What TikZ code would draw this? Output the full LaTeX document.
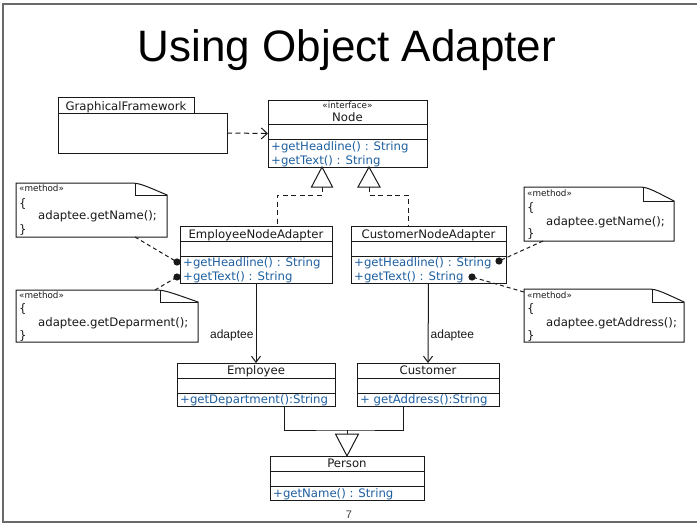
\documentclass[tikz,border=0pt]{standalone}
\usepackage{fontspec}
\setmainfont{Liberation Sans}
\newfontfamily\umlfont{DejaVu Sans}
\usetikzlibrary{arrows.meta,fit}
\definecolor{opblue}{RGB}{30,95,160}
\definecolor{framegray}{RGB}{105,105,105}
\definecolor{ink}{RGB}{25,25,25}

\tikzset{
  classline/.style={line width=1pt, draw=ink},
  classframe/.style={classline, rectangle, inner sep=0pt, outer sep=0pt},
  nametext/.style={font=\umlfont\fontsize{11.7}{13}\selectfont, text=ink, inner sep=0pt, anchor=base},
  stereo/.style={font=\umlfont\fontsize{8.8}{10}\selectfont, text=ink, inner sep=0pt},
  optext/.style={font=\umlfont\fontsize{11.7}{13}\selectfont, text=opblue, inner sep=0pt, anchor=base west},
  codetext/.style={font=\umlfont\fontsize{11.7}{13}\selectfont, text=ink, inner sep=0pt, anchor=base west},
  dependency/.style={line width=1pt, draw=ink, dash pattern=on 5pt off 3.5pt,
    -{Straight Barb[length=6pt,width=11pt,line width=1pt]}},
  realize/.style={line width=1pt, draw=ink, dash pattern=on 5pt off 3.5pt},
  assoc/.style={line width=1pt, draw=ink, -{Straight Barb[length=6pt,width=9pt,line width=1pt]}},
  generalize/.style={line width=1pt, draw=ink},
  hollowtri/.style={line width=1pt, draw=ink, fill=white},
  anchorline/.style={line width=1pt, draw=ink, dash pattern=on 4pt off 3pt},
  anchordot/.style={fill=ink},
  edgelabel/.style={font=\fontsize{12}{14}\selectfont, text=ink, inner sep=2pt},
}

% three-compartment class box: name, left, top, right, bottom, first divider, second divider
\newcommand{\classbox}[7]{%
  \coordinate (#1-nw) at (#2,#3);
  \coordinate (#1-se) at (#4,#5);
  \node[classframe, fit=(#1-nw)(#1-se)] (#1) {};
  \draw[classline] (#2,#6) -- (#4,#6) (#2,#7) -- (#4,#7);
}

% note with folded corner: name, left, top, right, bottom, fold x, fold depth
\newcommand{\notebox}[7]{%
  \coordinate (#1-nw) at (#2,#3);
  \coordinate (#1-se) at (#4,#5);
  \node[inner sep=0pt, outer sep=0pt, fit=(#1-nw)(#1-se)] (#1) {};
  \draw[classline, fill=white] (#2,#3) -- (#6-8,#3) .. controls (#6+4,#3) .. (#4,#3+#7)
    -- (#4,#5) -- (#2,#5) -- cycle;
  \draw[line width=0.7pt, draw=ink] (#6,#3+1) -- (#6,#3+#7) -- (#4,#3+#7);
}

\begin{document}
\begin{tikzpicture}[x=1pt, y=-1pt]
\useasboundingbox (0,0) rectangle (697,525);

% slide frame
\draw[framegray, line width=1.4pt] (697,4) -- (3,4) -- (3,522) -- (697,522);

% title and page number
\node[anchor=base, font=\fontsize{44}{50}\selectfont, text=black] (title) at (347,61) {Using Object Adapter};
\node[font=\fontsize{11}{13}\selectfont, text=black!75] (pageno) at (349,515) {7};

% GraphicalFramework (package-like tab)
\node[classframe, minimum width=136pt, minimum height=16pt, anchor=north west] (gf-tab) at (58,97) {};
\node[nametext] (gf-name) at (126,110) {GraphicalFramework};
\coordinate (gf-nw) at (58,113);
\coordinate (gf-se) at (227,153);
\node[classframe, fit=(gf-nw)(gf-se)] (gf) {};

% interface Node
\classbox{nodeif}{268}{100}{427}{167}{124}{139}
\node[stereo, anchor=base] (nodeif-st) at (347.5,108) {«interface»};
\node[nametext] (nodeif-name) at (347.5,121.5) {Node};
\node[optext] (nodeif-op1) at (271,150.5) {+getHeadline() : String};
\node[optext] (nodeif-op2) at (271,164.5) {+getText() : String};

% adapters
\classbox{ena}{180}{226}{332}{283}{241}{256}
\node[nametext] (ena-name) at (256,238) {EmployeeNodeAdapter};
\node[optext] (ena-op1) at (183,266.5) {+getHeadline() : String};
\node[optext] (ena-op2) at (183,280.5) {+getText() : String};

\classbox{cna}{351}{226}{506}{283}{241}{256}
\node[nametext] (cna-name) at (428.5,238) {CustomerNodeAdapter};
\node[optext] (cna-op1) at (354,266.5) {+getHeadline() : String};
\node[optext] (cna-op2) at (354,280.5) {+getText() : String};

% adaptees
\classbox{emp}{177}{363}{335}{406}{378}{393}
\node[nametext] (emp-name) at (256,374.5) {Employee};
\node[optext] (emp-op) at (180,403.5) {+getDepartment():String};

\classbox{cust}{357}{363}{499}{406}{378}{393}
\node[nametext] (cust-name) at (428,374.5) {Customer};
\node[optext] (cust-op) at (360,403.5) {+ getAddress():String};

\classbox{person}{270}{456}{424}{500}{471}{486}
\node[nametext] (person-name) at (347,467.5) {Person};
\node[optext] (person-op) at (273,497.5) {+getName() : String};

% dependency GraphicalFramework -> Node
\draw[dependency] (gf.east) -- (nodeif.west);

% realizations of Node
\coordinate (real1) at (322,167);
\coordinate (real2) at (369,167);
\draw[realize] (real1) ++(0,20) -- ++(0,8) -| ([xshift=21pt]ena.north);
\draw[realize] (real2) ++(0,20) -- ++(0,8) -| ([xshift=-20.5pt]cna.north);
\draw[hollowtri] (real1) -- ++(-10.5,20) -- ++(21,0) -- cycle;
\draw[hollowtri] (real2) -- ++(-11,20) -- ++(22,0) -- cycle;

% adaptee associations
\draw[assoc] (ena.south) -- node[edgelabel, left, pos=0.66] {adaptee} (emp.north);
\draw[assoc] (cna.south) -- node[edgelabel, right, pos=0.66] {adaptee} (cust.north);

% generalization to Person
\coordinate (genjoin) at (347,430);
\draw[generalize] ([xshift=28pt]emp.south) |- (genjoin) -| ([xshift=-25pt]cust.south);
\draw[generalize] (genjoin) -- ++(0,4);
\draw[hollowtri] (person.north) -- ++(-11.5,-22) -- ++(23,0) -- cycle;

% method notes
\notebox{noteA}{16}{183}{167}{237}{135}{12}
\node[stereo, anchor=base west] (noteA-st) at (19,191.5) {«method»};
\node[codetext] (noteA-l1) at (19,207.5) {\{};
\node[codetext] (noteA-l2) at (38,219.5) {adaptee.getName();};
\node[codetext] (noteA-l3) at (19,233.5) {\}};

\notebox{noteB}{16}{290}{198}{342}{160}{12}
\node[stereo, anchor=base west] (noteB-st) at (19,298.5) {«method»};
\node[codetext] (noteB-l1) at (19,312.5) {\{};
\node[codetext] (noteB-l2) at (38,326.5) {adaptee.getDeparment();};
\node[codetext] (noteB-l3) at (19,339.5) {\}};

\notebox{noteC}{524}{187}{674}{241}{643}{14}
\node[stereo, anchor=base west] (noteC-st) at (527,196.5) {«method»};
\node[codetext] (noteC-l1) at (527,211.5) {\{};
\node[codetext] (noteC-l2) at (546,225.5) {adaptee.getName();};
\node[codetext] (noteC-l3) at (527,237.5) {\}};

\notebox{noteD}{524}{289}{684}{342}{652}{13}
\node[stereo, anchor=base west] (noteD-st) at (527,298.5) {«method»};
\node[codetext] (noteD-l1) at (527,312.5) {\{};
\node[codetext] (noteD-l2) at (546,326.5) {adaptee.getAddress();};
\node[codetext] (noteD-l3) at (527,339.5) {\}};

% note anchors on operations
\coordinate (dotA) at (177,262);
\coordinate (dotB) at (177,277);
\coordinate (dotC) at (499,261);
\coordinate (dotD) at (472,277);
\draw[anchorline] ([xshift=43.5pt]noteA.south) -- (dotA);
\draw[anchorline] ([xshift=48pt]noteB.north) -- (dotB);
\draw[anchorline] ([xshift=-56pt]noteC.south) -- (dotC);
\draw[anchorline] (noteD.north west) ++(0,3) -- (dotD);
\foreach \d in {dotA,dotB,dotC,dotD} \fill[anchordot] (\d) circle (3.6pt);
\end{tikzpicture}
\end{document}
